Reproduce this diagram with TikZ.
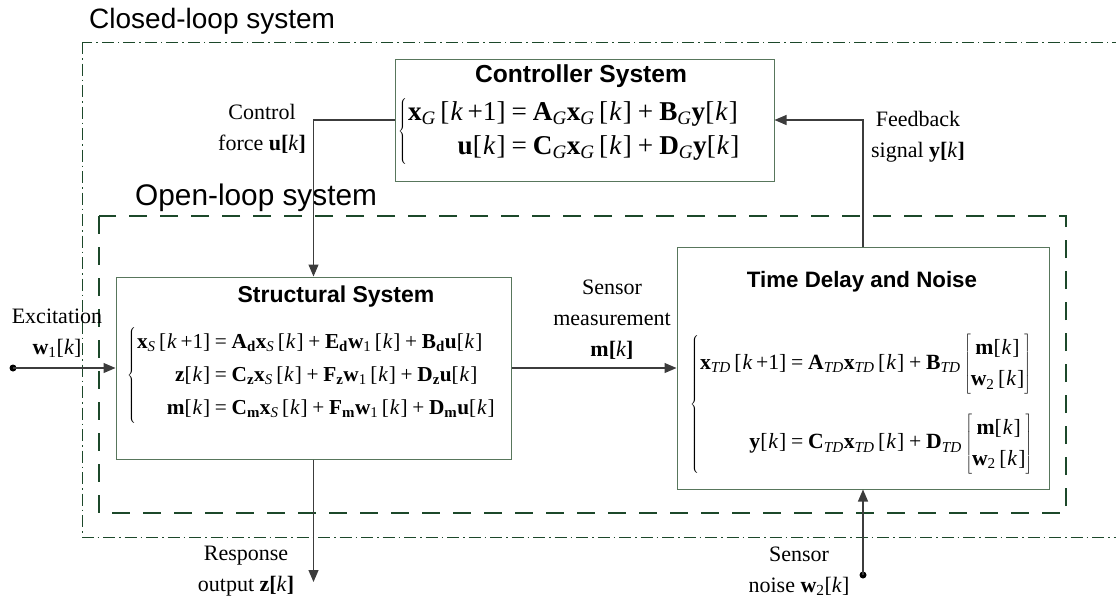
\documentclass[tikz,border=0pt]{standalone}
\usepackage{fontspec}
\setmainfont{Liberation Serif}
\newfontfamily\arialfont{Liberation Sans}
\usetikzlibrary{arrows.meta}

\definecolor{loopgreen}{RGB}{28,72,42}
\definecolor{boxgreen}{RGB}{88,118,92}
\definecolor{wiregray}{RGB}{60,60,60}

% notation helpers
\newcommand\vb[1]{\textbf{#1}}
\newcommand\si[1]{\textsubscript{\textit{#1}}}
\newcommand\su[1]{\textsubscript{#1}}
\newcommand\kk{[\hspace{0.04em}\textit{k}\hspace{0.04em}]}
\newcommand\kp{[\hspace{0.04em}\textit{k}\,+1]}
\newcommand\op[1]{\hspace{0.22em}#1\hspace{0.22em}}
\newcommand\vecmw{$\left[\begin{tabular}{@{}c@{}}\vb{m}\kk\\ \vb{w}\su{2}\,\kk\end{tabular}\right]$}
\newcommand\eqgroup[1]{$\left\{\hspace{1pt}#1\right.$}

\begin{document}
\begin{tikzpicture}[x=1pt,y=-1pt,
  box/.style={draw=boxgreen, line width=1pt, inner sep=0pt},
  wire/.style={draw=wiregray, line width=1.1pt},
  arr/.style={wire, -{Triangle[length=12pt,width=10pt]}},
  src/.style={circle, fill=black, inner sep=0pt, minimum size=7pt},
  lbl/.style={align=center, font=\fontsize{22}{31}\selectfont, inner sep=0pt},
  ttl/.style={font=\arialfont\bfseries\fontsize{23}{26}\selectfont, inner sep=0pt},
  eqn/.style={anchor=west, inner sep=0pt},
  sysname/.style={font=\arialfont\fontsize{28}{32}\selectfont, inner sep=0pt, anchor=base west},
  closedline/.style={draw=loopgreen, line width=1pt, dash pattern=on 12pt off 4pt on 1.5pt off 4pt},
  openline/.style={draw=loopgreen, line width=2.6pt, dash pattern=on 18pt off 13pt}]

\useasboundingbox (0,0) rectangle (1116,603);

% system boundaries
\begin{scope}
  \clip (0,0) rectangle (1116,603);
  \draw[closedline] (82,42) rectangle (1140,537);
\end{scope}
\draw[openline] (99,216) rectangle (1066,513);
\node[sysname] (closedT) at (89,28) {Closed-loop system};
\node[sysname, font=\arialfont\fontsize{29.8}{32}\selectfont] (openT) at (135,205) {Open-loop system};

% blocks
\node[box, minimum width=379pt, minimum height=122pt] (ctrl) at (584.5,120) {};
\node[box, minimum width=395pt, minimum height=182pt] (strct) at (313.5,368) {};
\node[box, minimum width=372pt, minimum height=242pt] (td) at (863,368) {};

\node[ttl, font=\arialfont\bfseries\fontsize{24.6}{26}\selectfont] (ctrlT) at (581,76) {Controller System};
\node[ttl] (strctT) at (336,297) {Structural System};
\node[ttl, font=\arialfont\bfseries\fontsize{22.3}{26}\selectfont] (tdT) at (862,282) {Time Delay and Noise};

\node[eqn] (ctrlE) at (398,131) {\fontsize{27.2}{34}\selectfont
  \eqgroup{\begin{tabular}{@{}r@{}l@{}}
  \vb{x}\si{G}\,\kp & \op{=}\vb{A}\si{G}\vb{x}\si{G}\,\kk\op{+}\vb{B}\si{G}\vb{y}\kk\\
  \vb{u}\kk & \op{=}\vb{C}\si{G}\vb{x}\si{G}\,\kk\op{+}\vb{D}\si{G}\vb{y}\kk
  \end{tabular}}};

\node[eqn] (strctE) at (127,375) {\fontsize{21.3}{33}\selectfont
  \eqgroup{\begin{tabular}{@{}r@{}l@{}}
  \vb{x}\si{S}\,\kp & \op{=}\vb{A}\su{\vb{d}}\vb{x}\si{S}\,\kk\op{+}\vb{E}\su{\vb{d}}\vb{w}\su{1}\,\kk\op{+}\vb{B}\su{\vb{d}}\vb{u}\kk\\
  \vb{z}\kk & \op{=}\vb{C}\su{\vb{z}}\vb{x}\si{S}\,\kk\op{+}\vb{F}\su{\vb{z}}\vb{w}\su{1}\,\kk\op{+}\vb{D}\su{\vb{z}}\vb{u}\kk\\
  \vb{m}\kk & \op{=}\vb{C}\su{\vb{m}}\vb{x}\si{S}\,\kk\op{+}\vb{F}\su{\vb{m}}\vb{w}\su{1}\,\kk\op{+}\vb{D}\su{\vb{m}}\vb{u}\kk
  \end{tabular}}};

\node[eqn] (tdE) at (690,404) {\fontsize{21.7}{31}\selectfont
  \eqgroup{\begin{tabular}{@{}r@{}l@{}}
  \vb{x}\si{TD}\,\kp & \op{=}\vb{A}\si{TD}\vb{x}\si{TD}\,\kk\op{+}\vb{B}\si{TD}\,\vecmw\\[34pt]
  \vb{y}\kk & \op{=}\vb{C}\si{TD}\vb{x}\si{TD}\,\kk\op{+}\vb{D}\si{TD}\,\vecmw
  \end{tabular}}};

% signal labels
\node[lbl] (lblU) at (262,129) {Control\\force \vb{u[}\textit{k}\vb{]}};
\node[lbl] (lblY) at (918,137) {Feedback\\signal \vb{y[}\textit{k}\vb{]}};
\node[lbl] (lblW1) at (57,333) {Excitation\\\vb{w}\su{1}[\textit{k}]};
\node[lbl] (lblM) at (612,320) {Sensor\\measurement\\\vb{m[}\textit{k}\vb{]}};
\node[lbl] (lblZ) at (246,571) {Response\\output \vb{z[}\textit{k}\vb{]}};
\node[lbl] (lblW2) at (799,571) {Sensor\\noise \vb{w}\su{2}[\textit{k}]};

% sources and free ends
\node[src] (w1src) at (13,368) {};
\node[src] (w2src) at (863,575) {};
\coordinate (zout) at (313.5,582);

% connectors
\draw[arr] (ctrl.west) -| (strct.north);
\draw[arr] (td.north) |- (ctrl.east);
\draw[arr] (w1src.center) -- (strct.west);
\draw[arr] (strct.east) -- (td.west);
\draw[arr] (strct.south) -- (zout);
\draw[arr] (w2src.center) -- (td.south);
\end{tikzpicture}
\end{document}
